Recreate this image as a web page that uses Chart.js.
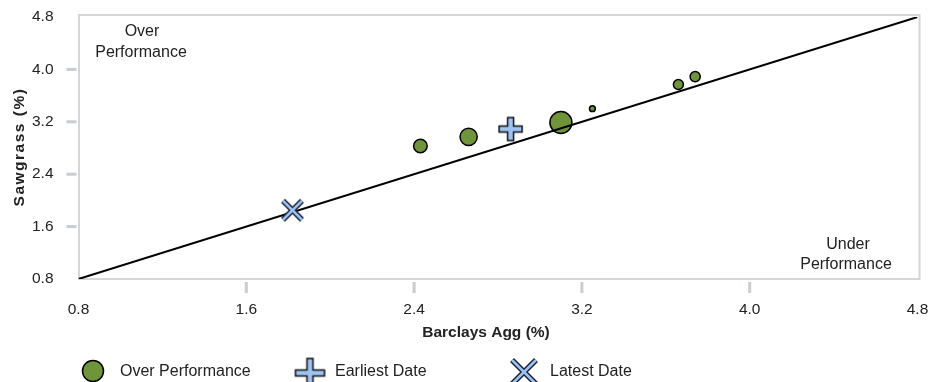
<!DOCTYPE html>
<html lang="en">
<head>
  <meta charset="UTF-8">
  <title>Sawgrass vs Barclays Agg</title>
  <style>
    * { margin: 0; padding: 0; box-sizing: border-box; }
    body { background: #fff; width: 930px; height: 382px; overflow: hidden; }
    #wrap { position: relative; width: 930px; height: 382px; }
  </style>
  <script src="https://cdn.jsdelivr.net/npm/chart.js"></script>
</head>
<body>
  <div id="wrap"><canvas id="scatterChart"></canvas></div>

  <script>
    // Rolling period returns (%), bubble size = weight of the period
    const periodX = [2.43, 2.66, 3.10, 3.25, 3.66, 3.74];
    const periodY = [2.83, 2.97, 3.19, 3.40, 3.77, 3.89];
    const periodSize = [6.8, 8.6, 11, 2.9, 5, 5.1];
    const earliestPoint = [2.86, 3.09];
    const latestPoint = [1.82, 1.85];
    const axisTicks = [0.8, 1.6, 2.4, 3.2, 4.0, 4.8];
    const seriesNames = ['Over Performance', 'Earliest Date', 'Latest Date'];

    const FONT = '"Liberation Sans", Arial, sans-serif';
    const TEXT = '#222';
    const GREEN = '#6f9439';
    const BLUE = '#9cc3f2';

    // Outlined plus marker
    function plusIcon(size, thick) {
      const pad = 2;
      const c = document.createElement('canvas');
      c.width = c.height = size + pad * 2;
      const g = c.getContext('2d');
      const m = c.width / 2, s = size / 2, h = thick / 2;
      const pts = [[-h,-s],[h,-s],[h,-h],[s,-h],[s,h],[h,h],[h,s],[-h,s],[-h,h],[-s,h],[-s,-h],[-h,-h]];
      g.beginPath();
      pts.forEach((p, i) => i ? g.lineTo(m + p[0], m + p[1]) : g.moveTo(m + p[0], m + p[1]));
      g.closePath();
      g.fillStyle = BLUE;
      g.fill();
      g.strokeStyle = '#111';
      g.lineWidth = 1.5;
      g.stroke();
      return c;
    }

    // Outlined X marker
    function crossIcon(size, thick) {
      const pad = 3;
      const c = document.createElement('canvas');
      c.width = c.height = size + pad * 2;
      const g = c.getContext('2d');
      const a = pad + 1, b = c.width - pad - 1;
      const strokeX = (w, col) => {
        g.strokeStyle = col;
        g.lineWidth = w;
        g.beginPath();
        g.moveTo(a, a); g.lineTo(b, b);
        g.moveTo(b, a); g.lineTo(a, b);
        g.stroke();
      };
      strokeX(thick, '#1a2233');
      strokeX(thick - 3, BLUE);
      return c;
    }

    const plusMark = plusIcon(23, 6);
    const crossMark = crossIcon(21, 5.5);
    const plusLegend = plusIcon(29, 6);
    const crossLegend = crossIcon(26, 5.5);

    // Frame, tick marks, axis titles, quadrant notes and legend
    const decorations = {
      id: 'decorations',
      beforeDatasetsDraw(chart) {
        const { ctx, chartArea: a, scales: { x, y } } = chart;
        ctx.save();
        ctx.strokeStyle = '#d6d6d6';
        ctx.lineWidth = 2;
        ctx.strokeRect(a.left + 0.5, a.top - 2, a.right - a.left + 1.5, a.bottom - a.top + 2);

        ctx.strokeStyle = '#c9cdd2';
        ctx.lineWidth = 3;
        axisTicks.slice(1, -1).forEach(v => {
          const py = y.getPixelForValue(v);
          ctx.beginPath();
          ctx.moveTo(a.left - 12, py); ctx.lineTo(a.left - 2, py);
          ctx.stroke();
          const px = x.getPixelForValue(v);
          ctx.beginPath();
          ctx.moveTo(px, a.bottom + 3); ctx.lineTo(px, a.bottom + 14);
          ctx.stroke();
        });
        ctx.restore();
      },
      afterDraw(chart) {
        const { ctx, chartArea: a } = chart;
        ctx.save();
        ctx.fillStyle = TEXT;
        ctx.textBaseline = 'middle';

        // axis titles
        ctx.font = 'bold 15.5px ' + FONT;
        ctx.textAlign = 'center';
        ctx.fillText('Barclays Agg (%)', 486, 333);
        ctx.save();
        ctx.translate(20, (a.top + a.bottom) / 2 - 1);
        ctx.rotate(-Math.PI / 2);
        ctx.letterSpacing = '1.5px';
        ctx.fillText('Sawgrass (%)', 0, 0);
        ctx.restore();

        // quadrant notes
        ctx.font = '16px ' + FONT;
        ctx.fillText('Over', 142, 32);
        ctx.fillText('Performance', 141, 53);
        ctx.fillText('Under', 848, 245);
        ctx.fillText('Performance', 846, 265);

        // legend
        const ly = 372;
        ctx.beginPath();
        ctx.arc(93, ly - 1, 10.5, 0, Math.PI * 2);
        ctx.fillStyle = GREEN;
        ctx.fill();
        ctx.strokeStyle = '#000';
        ctx.lineWidth = 1.5;
        ctx.stroke();
        ctx.drawImage(plusLegend, 310 - plusLegend.width / 2, ly - plusLegend.height / 2 + 1);
        ctx.drawImage(crossLegend, 524 - crossLegend.width / 2, ly - crossLegend.height / 2);

        ctx.fillStyle = TEXT;
        ctx.textAlign = 'left';
        ctx.fillText(seriesNames[0], 120, ly);
        ctx.fillText(seriesNames[1], 335, ly);
        ctx.fillText(seriesNames[2], 550, ly);
        ctx.restore();
      }
    };

    // labels at the ends may hang past the plot; keep the plot box fixed
    function noLabelPadding(scale) {
      scale.paddingLeft = 0;
      scale.paddingRight = 0;
      scale.paddingTop = 0;
      scale.paddingBottom = 0;
    }

    const axisBase = {
      type: 'linear',
      min: axisTicks[0],
      max: axisTicks[axisTicks.length - 1],
      afterBuildTicks: scale => { scale.ticks = axisTicks.map(v => ({ value: v })); },
      grid: { display: false, drawTicks: false },
      border: { display: false },
      ticks: {
        color: TEXT,
        font: { family: FONT, size: 15.5 },
        callback: v => Number(v).toFixed(1)
      }
    };

    const ctx = document.getElementById('scatterChart').getContext('2d');
    new Chart(ctx, {
      type: 'bubble',
      data: {
        datasets: [
          {
            label: seriesNames[0],
            data: periodX.map((x, i) => ({ x: x, y: periodY[i], r: periodSize[i] })),
            backgroundColor: GREEN,
            borderColor: '#000',
            borderWidth: 1.5,
            order: 3
          },
          {
            type: 'line',
            label: 'Parity',
            data: [{ x: axisTicks[0], y: axisTicks[0] }, { x: axisTicks[5], y: axisTicks[5] }],
            borderColor: '#000',
            borderWidth: 2,
            pointRadius: 0,
            order: 2
          },
          {
            type: 'scatter',
            label: seriesNames[1],
            data: [{ x: earliestPoint[0], y: earliestPoint[1] }],
            pointStyle: plusMark,
            order: 1
          },
          {
            type: 'scatter',
            label: seriesNames[2],
            data: [{ x: latestPoint[0], y: latestPoint[1] }],
            pointStyle: crossMark,
            order: 1
          }
        ]
      },
      options: {
        responsive: true,
        maintainAspectRatio: false,
        animation: false,
        layout: { padding: { left: 0, top: 17, right: 12.5, bottom: 0 } },
        plugins: {
          legend: { display: false },
          tooltip: { enabled: false }
        },
        scales: {
          x: Object.assign({}, axisBase, {
            afterFit: scale => { scale.height = 103; noLabelPadding(scale); },
            ticks: Object.assign({}, axisBase.ticks, { padding: 21, maxRotation: 0 })
          }),
          y: Object.assign({}, axisBase, {
            afterFit: scale => { scale.width = 78.5; noLabelPadding(scale); },
            ticks: Object.assign({}, axisBase.ticks, { padding: 25 })
          })
        }
      },
      plugins: [decorations]
    });
  </script>
</body>
</html>
